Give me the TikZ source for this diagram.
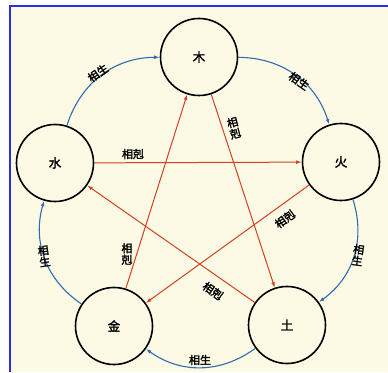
\documentclass[tikz,border=0pt]{standalone}
\usepackage{fontspec}
\usepackage{tikz}
\usetikzlibrary{arrows.meta}
\newfontfamily\cjk[AutoFakeBold=2.2]{Noto Sans CJK SC}
\definecolor{bgcream}{rgb}{0.99,0.98,0.90}
\definecolor{frameblue}{rgb}{0.16,0.18,0.90}
\definecolor{shengblue}{rgb}{0.20,0.42,0.68}
\definecolor{kered}{rgb}{0.82,0.25,0.12}
\tikzset{
  element/.style={circle, draw=black, line width=1.6pt, fill=bgcream, minimum size=77pt, inner sep=0pt, font=\cjk\bfseries\fontsize{12.5}{13}\selectfont},
  sheng/.style={draw=shengblue, line width=1.1pt, -{Latex[length=5.5pt,width=3.8pt]}},
  ke/.style={draw=kered, line width=1pt, -{Latex[length=5.5pt,width=3.8pt]}},
  rel/.style={inner sep=0pt, align=center, font=\cjk\bfseries\fontsize{11}{11.5}\selectfont}
}

\begin{document}
\begin{tikzpicture}[x=1pt, y=1pt]
\useasboundingbox (0,0) rectangle (388,372);
% paper and frame
\fill[bgcream] (10,0) rectangle (388,366);
\draw[frameblue, line width=2pt] (10,0) -- (10,366) -- (388,366);

% the five elements
\node[element] (mu) at (199,315) {木};
\node[element] (huo) at (341,210) {火};
\node[element] (tu) at (287,47) {土};
\node[element] (jin) at (114,46) {金};
\node[element] (shui) at (55,209) {水};

% generating cycle
\draw[sheng] (mu) to[bend left=36] (huo);
\draw[sheng] (huo) to[bend left=36] (tu);
\draw[sheng] (tu) to[bend left=36] (jin);
\draw[sheng] (jin) to[bend left=36] (shui);
\draw[sheng] (shui) to[bend left=36] (mu);
\node[rel, rotate=35] (s1) at (98,299) {相生};
\node[rel, rotate=-35] (s2) at (299,291) {相生};
\node[rel, rotate=-8] (s3) at (358,117) {相\\生};
\node[rel] (s4) at (200,12) {相生};
\node[rel, rotate=8] (s5) at (44,116) {相\\生};

% overcoming cycle
\draw[ke] (mu) -- (tu);
\draw[ke] (tu) -- (shui);
\draw[ke] (shui) -- (huo);
\draw[ke] (huo) -- (jin);
\draw[ke] (jin) -- (mu);
\node[rel] (k1) at (133,218) {相剋};
\node[rel, rotate=15] (k2) at (234,244) {相\\剋};
\node[rel] (k3) at (127,118) {相\\剋};
\node[rel, rotate=36] (k4) at (285,153) {相剋};
\node[rel, rotate=-35] (k5) at (213,81) {相剋};
\end{tikzpicture}
\end{document}
